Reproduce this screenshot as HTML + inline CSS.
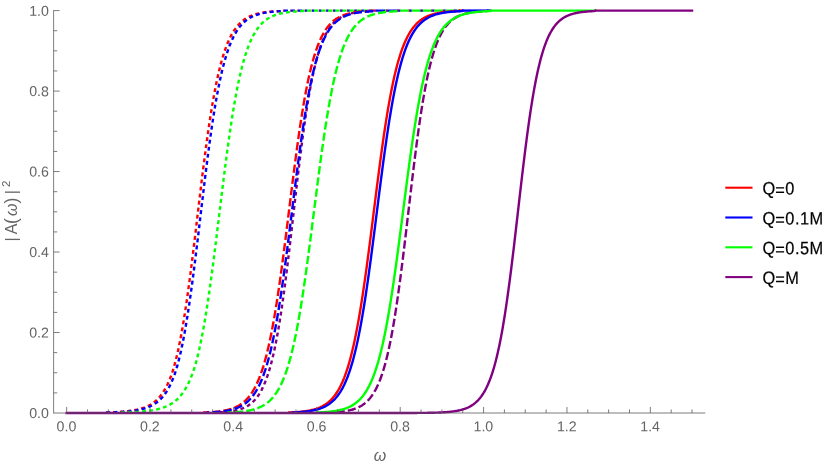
<!DOCTYPE html>
<html><head><meta charset="utf-8"><title>plot</title>
<style>
html,body{margin:0;padding:0;background:#fff;}
body{width:830px;height:468px;overflow:hidden;font-family:"Liberation Sans",sans-serif;}
svg{display:block;will-change:transform;}
.tk{font-family:"Liberation Sans",sans-serif;font-size:14.2px;letter-spacing:0px;fill:#646464;}
.lg{font-family:"Liberation Sans",sans-serif;font-size:18.0px;fill:#000000;stroke:#000;stroke-width:0.2px;}
.al{font-family:"Liberation Sans",sans-serif;font-size:16px;fill:#666666;}
</style></head><body>
<svg width="830" height="468" viewBox="0 0 830 468">
<rect width="830" height="468" fill="#ffffff"/>
<g>
<path d="M105.02 412.50 L105.86 412.47 L106.69 412.45 L107.53 412.42 L108.36 412.40 L109.19 412.37 L110.03 412.34 L110.86 412.31 L111.70 412.28 L112.53 412.24 L113.36 412.21 L114.20 412.17 L115.03 412.13 L115.86 412.09 L116.70 412.04 L117.53 411.99 L118.37 411.94 L119.20 411.89 L120.03 411.84 L120.87 411.78 L121.70 411.72 L122.53 411.65 L123.37 411.58 L124.20 411.51 L125.04 411.43 L125.87 411.35 L126.70 411.26 L127.54 411.17 L128.37 411.07 L129.20 410.97 L130.04 410.86 L130.87 410.75 L131.71 410.62 L132.54 410.49 L133.37 410.36 L134.21 410.21 L135.04 410.06 L135.88 409.89 L136.71 409.72 L137.54 409.53 L138.38 409.34 L139.21 409.13 L140.04 408.91 L140.88 408.68 L141.71 408.43 L142.55 408.16 L143.38 407.88 L144.21 407.58 L145.05 407.26 L145.88 406.93 L146.71 406.57 L147.55 406.19 L148.38 405.78 L149.22 405.35 L150.05 404.89 L150.88 404.40 L151.72 403.88 L152.55 403.32 L153.39 402.73 L154.22 402.10 L155.05 401.43 L155.89 400.72 L156.72 399.96 L157.55 399.15 L158.39 398.29 L159.22 397.38 L160.06 396.40 L160.89 395.36 L161.72 394.26 L162.56 393.08 L163.39 391.83 L164.22 390.50 L165.06 389.08 L165.89 387.57 L166.73 385.97 L167.56 384.27 L168.39 382.46 L169.23 380.53 L170.06 378.49 L170.89 376.33 L171.73 374.03 L172.56 371.59 L173.40 368.93 L174.23 366.03 L175.06 362.96 L175.90 359.73 L176.73 356.32 L177.57 352.74 L178.40 348.97 L179.23 345.02 L180.07 340.88 L180.90 336.54 L181.73 332.01 L182.57 327.29 L183.40 322.37 L184.24 317.26 L185.07 311.97 L185.90 306.48 L186.74 300.82 L187.57 294.98 L188.40 288.97 L189.24 282.81 L190.07 276.49 L190.91 270.04 L191.74 263.47 L192.57 256.78 L193.41 250.00 L194.24 243.14 L195.08 236.21 L195.91 229.23 L196.74 222.22 L197.58 215.20 L198.41 208.18 L199.24 201.18 L200.08 194.21 L200.91 187.30 L201.75 180.46 L202.58 173.70 L203.41 167.03 L204.25 160.48 L205.08 154.06 L205.91 147.76 L206.75 141.61 L207.58 135.62 L208.42 129.78 L209.25 124.12 L210.08 118.62 L210.92 113.31 L211.75 108.17 L212.58 103.22 L213.42 98.44 L214.25 93.86 L215.09 89.45 L215.92 85.23 L216.75 81.18 L217.59 77.32 L218.42 73.62 L219.26 70.10 L220.09 66.74 L220.92 63.55 L221.76 60.51 L222.59 57.62 L223.42 54.88 L224.26 52.28 L225.09 49.82 L225.93 47.49 L226.76 45.28 L227.59 43.20 L228.43 41.23 L229.26 39.37 L230.09 37.61 L230.93 35.96 L231.76 34.40 L232.60 32.93 L233.43 31.54 L234.26 30.24 L235.10 29.01 L235.93 27.86 L236.77 26.78 L237.60 25.76 L238.43 24.80 L239.27 23.90 L240.10 23.06 L240.93 22.27 L241.77 21.53 L242.60 20.83 L243.44 20.17 L244.27 19.56 L245.10 18.99 L245.94 18.45 L246.77 17.94 L247.60 17.47 L248.44 17.03 L249.27 16.61 L250.11 16.22 L250.94 15.86 L251.77 15.52 L252.61 15.20 L253.44 14.90 L254.27 14.62 L255.11 14.36 L255.94 14.12 L256.78 13.89 L257.61 13.67 L258.44 13.47 L259.28 13.29 L260.11 13.11 L260.95 12.95 L261.78 12.79 L262.61 12.65 L263.45 12.52 L264.28 12.39 L265.11 12.28 L265.95 12.17 L266.78 12.06 L267.62 11.97 L268.45 11.88 L269.28 11.79 L270.12 11.72 L270.95 11.64 L271.78 11.57 L272.62 11.51 L273.45 11.45 L274.29 11.40 L275.12 11.34 L275.95 11.29 L276.79 11.25 L277.62 11.21 L278.46 11.17 L279.29 11.13 L280.12 11.09 L280.96 10.60" fill="none" stroke="#ff0000" stroke-width="2.40" stroke-linejoin="round" stroke-linecap="square" stroke-dasharray="1.50 5.60" stroke-dashoffset="4.98"/>
<path d="M283.16 10.60 H284.06 M290.26 10.60 H291.16 M297.36 10.60 H298.26 M304.46 10.60 H305.36 M311.56 10.60 H312.46 M318.66 10.60 H319.56 M325.76 10.60 H326.66 M332.86 10.60 H333.76 M339.96 10.60 H340.86 M347.06 10.60 H347.96 M354.16 10.60 H355.06 M361.26 10.60 H362.16 M368.36 10.60 H369.26 M397.01 10.60 H397.66 M453.81 10.60 H454.46" fill="none" stroke="#ff0000" stroke-width="2.40"/>
<path d="M107.53 412.51 L108.36 412.49 L109.19 412.46 L110.03 412.44 L110.86 412.41 L111.70 412.39 L112.53 412.36 L113.36 412.33 L114.20 412.30 L115.03 412.26 L115.86 412.23 L116.70 412.19 L117.53 412.15 L118.37 412.11 L119.20 412.07 L120.03 412.02 L120.87 411.97 L121.70 411.92 L122.53 411.87 L123.37 411.81 L124.20 411.75 L125.04 411.69 L125.87 411.62 L126.70 411.55 L127.54 411.48 L128.37 411.40 L129.20 411.31 L130.04 411.23 L130.87 411.13 L131.71 411.03 L132.54 410.93 L133.37 410.82 L134.21 410.70 L135.04 410.57 L135.88 410.44 L136.71 410.30 L137.54 410.15 L138.38 409.99 L139.21 409.83 L140.04 409.65 L140.88 409.46 L141.71 409.26 L142.55 409.05 L143.38 408.82 L144.21 408.58 L145.05 408.33 L145.88 408.05 L146.71 407.77 L147.55 407.46 L148.38 407.14 L149.22 406.79 L150.05 406.42 L150.88 406.03 L151.72 405.61 L152.55 405.17 L153.39 404.70 L154.22 404.20 L155.05 403.66 L155.89 403.10 L156.72 402.49 L157.55 401.85 L158.39 401.16 L159.22 400.43 L160.06 399.65 L160.89 398.83 L161.72 397.94 L162.56 397.01 L163.39 396.01 L164.22 394.94 L165.06 393.81 L165.89 392.60 L166.73 391.32 L167.56 389.96 L168.39 388.51 L169.23 386.96 L170.06 385.32 L170.89 383.57 L171.73 381.72 L172.56 379.75 L173.40 377.66 L174.23 375.45 L175.06 373.10 L175.90 370.60 L176.73 367.82 L177.57 364.85 L178.40 361.72 L179.23 358.43 L180.07 354.95 L180.90 351.30 L181.73 347.46 L182.57 343.43 L183.40 339.21 L184.24 334.80 L185.07 330.20 L185.90 325.40 L186.74 320.41 L187.57 315.22 L188.40 309.85 L189.24 304.30 L190.07 298.56 L190.91 292.66 L191.74 286.59 L192.57 280.36 L193.41 274.00 L194.24 267.50 L195.08 260.88 L195.91 254.15 L196.74 247.34 L197.58 240.45 L198.41 233.50 L199.24 226.50 L200.08 219.49 L200.91 212.46 L201.75 205.45 L202.58 198.46 L203.41 191.51 L204.25 184.63 L205.08 177.81 L205.91 171.09 L206.75 164.47 L207.58 157.96 L208.42 151.59 L209.25 145.35 L210.08 139.26 L210.92 133.33 L211.75 127.56 L212.58 121.96 L213.42 116.53 L214.25 111.28 L215.09 106.22 L215.92 101.34 L216.75 96.64 L217.59 92.12 L218.42 87.79 L219.26 83.63 L220.09 79.66 L220.92 75.86 L221.76 72.23 L222.59 68.77 L223.42 65.48 L224.26 62.35 L225.09 59.37 L225.93 56.54 L226.76 53.85 L227.59 51.31 L228.43 48.90 L229.26 46.62 L230.09 44.46 L230.93 42.42 L231.76 40.49 L232.60 38.67 L233.43 36.96 L234.26 35.34 L235.10 33.82 L235.93 32.38 L236.77 31.03 L237.60 29.75 L238.43 28.56 L239.27 27.43 L240.10 26.37 L240.93 25.38 L241.77 24.45 L242.60 23.57 L243.44 22.75 L244.27 21.97 L245.10 21.25 L245.94 20.57 L246.77 19.93 L247.60 19.33 L248.44 18.77 L249.27 18.25 L250.11 17.76 L250.94 17.29 L251.77 16.86 L252.61 16.46 L253.44 16.08 L254.27 15.73 L255.11 15.39 L255.94 15.08 L256.78 14.79 L257.61 14.52 L258.44 14.26 L259.28 14.03 L260.11 13.80 L260.95 13.60 L261.78 13.40 L262.61 13.22 L263.45 13.05 L264.28 12.89 L265.11 12.74 L265.95 12.60 L266.78 12.47 L267.62 12.35 L268.45 12.23 L269.28 12.12 L270.12 12.03 L270.95 11.93 L271.78 11.84 L272.62 11.76 L273.45 11.69 L274.29 11.62 L275.12 11.55 L275.95 11.49 L276.79 11.43 L277.62 11.37 L278.46 11.32 L279.29 11.28 L280.12 11.23 L280.96 11.19 L281.79 11.15 L282.62 11.12 L283.46 10.60" fill="none" stroke="#0000ff" stroke-width="2.40" stroke-linejoin="round" stroke-linecap="square" stroke-dasharray="1.50 5.60" stroke-dashoffset="7.00"/>
<path d="M283.66 10.60 H287.96 M290.76 10.60 H295.06 M297.86 10.60 H302.16 M304.96 10.60 H307.26 M312.06 10.60 H314.36 M319.16 10.60 H321.46 M326.26 10.60 H328.56 M333.36 10.60 H335.66 M340.46 10.60 H342.76 M347.56 10.60 H349.86 M354.66 10.60 H356.96 M361.76 10.60 H364.06 M368.86 10.60 H371.16 M384.11 10.60 H385.36 M397.26 10.60 H398.41 M419.66 10.60 H420.86 M454.06 10.60 H454.91" fill="none" stroke="#0000ff" stroke-width="2.40"/>
<path d="M120.87 412.51 L121.70 412.49 L122.53 412.47 L123.37 412.44 L124.20 412.42 L125.04 412.40 L125.87 412.37 L126.70 412.34 L127.54 412.31 L128.37 412.29 L129.20 412.25 L130.04 412.22 L130.87 412.19 L131.71 412.15 L132.54 412.11 L133.37 412.07 L134.21 412.03 L135.04 411.98 L135.88 411.94 L136.71 411.89 L137.54 411.84 L138.38 411.78 L139.21 411.72 L140.04 411.66 L140.88 411.60 L141.71 411.53 L142.55 411.46 L143.38 411.39 L144.21 411.31 L145.05 411.23 L145.88 411.14 L146.71 411.04 L147.55 410.95 L148.38 410.84 L149.22 410.73 L150.05 410.62 L150.88 410.50 L151.72 410.37 L152.55 410.23 L153.39 410.09 L154.22 409.94 L155.05 409.78 L155.89 409.61 L156.72 409.43 L157.55 409.24 L158.39 409.04 L159.22 408.82 L160.06 408.60 L160.89 408.36 L161.72 408.10 L162.56 407.84 L163.39 407.55 L164.22 407.25 L165.06 406.93 L165.89 406.59 L166.73 406.23 L167.56 405.85 L168.39 405.45 L169.23 405.02 L170.06 404.57 L170.89 404.08 L171.73 403.57 L172.56 403.03 L173.40 402.45 L174.23 401.84 L175.06 401.19 L175.90 400.50 L176.73 399.77 L177.57 398.99 L178.40 398.17 L179.23 397.29 L180.07 396.36 L180.90 395.38 L181.73 394.33 L182.57 393.22 L183.40 392.04 L184.24 390.79 L185.07 389.46 L185.90 388.05 L186.74 386.56 L187.57 384.97 L188.40 383.29 L189.24 381.51 L190.07 379.63 L190.91 377.64 L191.74 375.52 L192.57 373.29 L193.41 370.93 L194.24 368.43 L195.08 365.70 L195.91 362.74 L196.74 359.63 L197.58 356.36 L198.41 352.93 L199.24 349.32 L200.08 345.55 L200.91 341.59 L201.75 337.46 L202.58 333.15 L203.41 328.66 L204.25 323.98 L205.08 319.13 L205.91 314.09 L206.75 308.88 L207.58 303.50 L208.42 297.95 L209.25 292.23 L210.08 286.36 L210.92 280.34 L211.75 274.19 L212.58 267.90 L213.42 261.50 L214.25 255.00 L215.09 248.40 L215.92 241.72 L216.75 234.98 L217.59 228.19 L218.42 221.37 L219.26 214.54 L220.09 207.70 L220.92 200.87 L221.76 194.08 L222.59 187.33 L223.42 180.63 L224.26 174.02 L225.09 167.49 L225.93 161.06 L226.76 154.75 L227.59 148.56 L228.43 142.50 L229.26 136.59 L230.09 130.82 L230.93 125.22 L231.76 119.77 L232.60 114.50 L233.43 109.39 L234.26 104.46 L235.10 99.71 L235.93 95.13 L236.77 90.73 L237.60 86.50 L238.43 82.45 L239.27 78.57 L240.10 74.86 L240.93 71.32 L241.77 67.94 L242.60 64.72 L243.44 61.65 L244.27 58.74 L245.10 55.97 L245.94 53.34 L246.77 50.84 L247.60 48.48 L248.44 46.24 L249.27 44.12 L250.11 42.12 L250.94 40.22 L251.77 38.43 L252.61 36.75 L253.44 35.16 L254.27 33.65 L255.11 32.24 L255.94 30.91 L256.78 29.65 L257.61 28.47 L258.44 27.36 L259.28 26.32 L260.11 25.33 L260.95 24.41 L261.78 23.54 L262.61 22.73 L263.45 21.97 L264.28 21.25 L265.11 20.57 L265.95 19.94 L266.78 19.35 L267.62 18.79 L268.45 18.27 L269.28 17.78 L270.12 17.32 L270.95 16.90 L271.78 16.49 L272.62 16.12 L273.45 15.76 L274.29 15.43 L275.12 15.12 L275.95 14.83 L276.79 14.56 L277.62 14.30 L278.46 14.07 L279.29 13.84 L280.12 13.63 L280.96 13.44 L281.79 13.25 L282.62 13.08 L283.46 12.92 L284.29 12.77 L285.13 12.63 L285.96 12.50 L286.79 12.38 L287.63 12.26 L288.46 12.16 L289.29 12.06 L290.13 11.96 L290.96 11.87 L291.80 11.79 L292.63 11.71 L293.46 11.64 L294.30 11.57 L295.13 11.51 L295.97 11.45 L296.80 11.40 L297.63 11.34 L298.47 11.30 L299.30 11.25 L300.13 11.21 L300.97 11.17 L301.80 11.13 L302.64 11.10 L303.47 10.60" fill="none" stroke="#00ff00" stroke-width="2.40" stroke-linejoin="round" stroke-linecap="square" stroke-dasharray="1.50 5.60" stroke-dashoffset="5.98"/>
<path d="M303.26 10.60 H304.06 M306.86 10.60 H311.16 M313.96 10.60 H318.26 M321.06 10.60 H325.36 M328.16 10.60 H332.46 M335.26 10.60 H339.56 M342.36 10.60 H346.66 M349.46 10.60 H353.76 M356.56 10.60 H360.86 M363.66 10.60 H367.96 M370.76 10.60 H372.06 M384.96 10.60 H386.41 M420.46 10.60 H421.01 M442.26 10.60 H443.21" fill="none" stroke="#00ff00" stroke-width="2.40"/>
<path d="M216.75 412.51 L217.59 412.48 L218.42 412.44 L219.26 412.40 L220.09 412.35 L220.92 412.30 L221.76 412.25 L222.59 412.19 L223.42 412.13 L224.26 412.07 L225.09 411.99 L225.93 411.92 L226.76 411.84 L227.59 411.75 L228.43 411.66 L229.26 411.55 L230.09 411.45 L230.93 411.33 L231.76 411.20 L232.60 411.07 L233.43 410.92 L234.26 410.77 L235.10 410.60 L235.93 410.42 L236.77 410.23 L237.60 410.02 L238.43 409.79 L239.27 409.55 L240.10 409.30 L240.93 409.02 L241.77 408.72 L242.60 408.40 L243.44 408.06 L244.27 407.69 L245.10 407.29 L245.94 406.87 L246.77 406.41 L247.60 405.92 L248.44 405.40 L249.27 404.84 L250.11 404.23 L250.94 403.58 L251.77 402.89 L252.61 402.15 L253.44 401.35 L254.27 400.50 L255.11 399.58 L255.94 398.61 L256.78 397.56 L257.61 396.44 L258.44 395.24 L259.28 393.96 L260.11 392.60 L260.95 391.14 L261.78 389.58 L262.61 387.92 L263.45 386.15 L264.28 384.27 L265.11 382.26 L265.95 380.13 L266.78 377.86 L267.62 375.45 L268.45 372.90 L269.28 370.19 L270.12 367.32 L270.95 364.29 L271.78 361.08 L272.62 357.70 L273.45 354.13 L274.29 350.38 L275.12 346.43 L275.95 342.29 L276.79 337.94 L277.62 333.40 L278.46 328.65 L279.29 323.69 L280.12 318.54 L280.96 313.18 L281.79 307.62 L282.62 301.87 L283.46 295.93 L284.29 289.81 L285.13 283.51 L285.96 277.05 L286.79 270.44 L287.63 263.69 L288.46 256.82 L289.29 249.83 L290.13 242.75 L290.96 235.60 L291.80 228.38 L292.63 221.12 L293.46 213.85 L294.30 206.56 L295.13 199.30 L295.97 192.07 L296.80 184.89 L297.63 177.79 L298.47 170.77 L299.30 163.86 L300.13 157.06 L300.97 150.40 L301.80 143.89 L302.64 137.54 L303.47 131.36 L304.30 125.35 L305.14 119.53 L305.97 113.89 L306.80 108.46 L307.64 103.22 L308.47 98.18 L309.31 93.35 L310.14 88.71 L310.97 84.28 L311.81 80.04 L312.64 76.00 L313.47 72.16 L314.31 68.50 L315.14 65.02 L315.98 61.72 L316.81 58.60 L317.64 55.64 L318.48 52.84 L319.31 50.20 L320.15 47.70 L320.98 45.35 L321.81 43.13 L322.65 41.04 L323.48 39.08 L324.31 37.24 L325.15 35.50 L325.98 33.87 L326.82 32.35 L327.65 30.91 L328.48 29.57 L329.32 28.31 L330.15 27.13 L330.98 26.03 L331.82 25.00 L332.65 24.03 L333.49 23.13 L334.32 22.28 L335.15 21.50 L335.99 20.76 L336.82 20.07 L337.66 19.43 L338.49 18.83 L339.32 18.27 L340.16 17.74 L340.99 17.26 L341.82 16.80 L342.66 16.38 L343.49 15.98 L344.33 15.61 L345.16 15.27 L345.99 14.95 L346.83 14.65 L347.66 14.37 L348.49 14.11 L349.33 13.87 L350.16 13.64 L351.00 13.43 L351.83 13.24 L352.66 13.06 L353.50 12.89 L354.33 12.73 L355.16 12.58 L356.00 12.44 L356.83 12.32 L357.67 12.20 L358.50 12.09 L359.33 11.98 L360.17 11.89 L361.00 11.80 L361.84 11.72 L362.67 11.64 L363.50 11.57 L364.34 11.50 L365.17 11.44 L366.00 11.38 L366.84 11.33 L367.67 11.28 L368.51 11.23 L369.34 11.19 L370.17 11.14 L371.01 11.11 L371.84 10.60" fill="none" stroke="#800080" stroke-width="2.40" stroke-linejoin="round" stroke-linecap="square" stroke-dasharray="1.50 5.60" stroke-dashoffset="3.18"/>
<path d="M372.31 10.60 H375.81 M386.01 10.60 H387.11 M395.41 10.60 H397.41 M408.36 10.60 H409.71 M430.96 10.60 H432.31 M442.81 10.60 H443.61 M453.56 10.60 H454.21" fill="none" stroke="#800080" stroke-width="2.40"/>
<path d="M204.25 412.51 L205.08 412.47 L205.91 412.44 L206.75 412.40 L207.58 412.36 L208.42 412.31 L209.25 412.27 L210.08 412.22 L210.92 412.16 L211.75 412.11 L212.58 412.04 L213.42 411.98 L214.25 411.91 L215.09 411.84 L215.92 411.76 L216.75 411.67 L217.59 411.58 L218.42 411.49 L219.26 411.38 L220.09 411.27 L220.92 411.16 L221.76 411.03 L222.59 410.90 L223.42 410.75 L224.26 410.60 L225.09 410.44 L225.93 410.27 L226.76 410.08 L227.59 409.88 L228.43 409.67 L229.26 409.45 L230.09 409.21 L230.93 408.95 L231.76 408.68 L232.60 408.39 L233.43 408.08 L234.26 407.75 L235.10 407.40 L235.93 407.02 L236.77 406.62 L237.60 406.19 L238.43 405.74 L239.27 405.25 L240.10 404.74 L240.93 404.19 L241.77 403.60 L242.60 402.98 L243.44 402.31 L244.27 401.61 L245.10 400.86 L245.94 400.06 L246.77 399.21 L247.60 398.30 L248.44 397.34 L249.27 396.32 L250.11 395.23 L250.94 394.08 L251.77 392.86 L252.61 391.56 L253.44 390.19 L254.27 388.73 L255.11 387.19 L255.94 385.55 L256.78 383.82 L257.61 381.99 L258.44 380.05 L259.28 378.00 L260.11 375.84 L260.95 373.56 L261.78 371.16 L262.61 368.63 L263.45 365.96 L264.28 363.15 L265.11 360.21 L265.95 357.11 L266.78 353.86 L267.62 350.46 L268.45 346.90 L269.28 343.18 L270.12 339.29 L270.95 335.23 L271.78 331.01 L272.62 326.61 L273.45 322.04 L274.29 317.31 L275.12 312.40 L275.95 307.33 L276.79 302.09 L277.62 296.68 L278.46 291.13 L279.29 285.42 L280.12 279.56 L280.96 273.58 L281.79 267.46 L282.62 261.22 L283.46 254.88 L284.29 248.44 L285.13 241.91 L285.96 235.31 L286.79 228.66 L287.63 221.96 L288.46 215.24 L289.29 208.50 L290.13 201.76 L290.96 195.04 L291.80 188.35 L292.63 181.70 L293.46 175.12 L294.30 168.61 L295.13 162.19 L295.97 155.87 L296.80 149.67 L297.63 143.58 L298.47 137.63 L299.30 131.83 L300.13 126.17 L300.97 120.67 L301.80 115.33 L302.64 110.17 L303.47 105.17 L304.30 100.34 L305.14 95.70 L305.97 91.23 L306.80 86.93 L307.64 82.81 L308.47 78.87 L309.31 75.10 L310.14 71.49 L310.97 68.06 L311.81 64.78 L312.64 61.67 L313.47 58.71 L314.31 55.89 L315.14 53.22 L315.98 50.70 L316.81 48.30 L317.64 46.03 L318.48 43.89 L319.31 41.87 L320.15 39.96 L320.98 38.15 L321.81 36.45 L322.65 34.85 L323.48 33.34 L324.31 31.92 L325.15 30.59 L325.98 29.33 L326.82 28.15 L327.65 27.04 L328.48 26.00 L329.32 25.02 L330.15 24.10 L330.98 23.24 L331.82 22.43 L332.65 21.67 L333.49 20.96 L334.32 20.30 L335.15 19.67 L335.99 19.09 L336.82 18.54 L337.66 18.03 L338.49 17.54 L339.32 17.09 L340.16 16.67 L340.99 16.28 L341.82 15.91 L342.66 15.56 L343.49 15.24 L344.33 14.94 L345.16 14.66 L345.99 14.39 L346.83 14.14 L347.66 13.91 L348.49 13.70 L349.33 13.49 L350.16 13.31 L351.00 13.13 L351.83 12.96 L352.66 12.81 L353.50 12.66 L354.33 12.53 L355.16 12.40 L356.00 12.28 L356.83 12.17 L357.67 12.07 L358.50 11.97 L359.33 11.88 L360.17 11.80 L361.00 11.72 L361.84 11.65 L362.67 11.58 L363.50 11.51 L364.34 11.45 L365.17 11.40 L366.00 11.35 L366.84 11.30 L367.67 11.25 L368.51 11.21 L369.34 11.17 L370.17 11.13 L371.01 11.10 L371.84 10.60" fill="none" stroke="#ff0000" stroke-width="2.40" stroke-linejoin="round" stroke-linecap="square" stroke-dasharray="5.80 5.50" stroke-dashoffset="2.21"/>
<path d="M371.66 10.60 H372.71 M375.41 10.60 H376.31 M386.71 10.60 H387.61 M398.01 10.60 H398.91 M409.31 10.60 H410.21 M420.61 10.60 H421.51 M431.91 10.60 H432.81 M443.21 10.60 H444.11 M454.51 10.60 H455.41" fill="none" stroke="#ff0000" stroke-width="2.40"/>
<path d="M207.58 412.51 L208.42 412.48 L209.25 412.44 L210.08 412.41 L210.92 412.36 L211.75 412.32 L212.58 412.27 L213.42 412.22 L214.25 412.17 L215.09 412.11 L215.92 412.05 L216.75 411.99 L217.59 411.92 L218.42 411.85 L219.26 411.77 L220.09 411.68 L220.92 411.59 L221.76 411.50 L222.59 411.39 L223.42 411.28 L224.26 411.17 L225.09 411.04 L225.93 410.91 L226.76 410.77 L227.59 410.61 L228.43 410.45 L229.26 410.28 L230.09 410.09 L230.93 409.89 L231.76 409.68 L232.60 409.45 L233.43 409.21 L234.26 408.96 L235.10 408.68 L235.93 408.39 L236.77 408.08 L237.60 407.74 L238.43 407.39 L239.27 407.01 L240.10 406.60 L240.93 406.17 L241.77 405.71 L242.60 405.22 L243.44 404.70 L244.27 404.14 L245.10 403.55 L245.94 402.92 L246.77 402.24 L247.60 401.53 L248.44 400.76 L249.27 399.95 L250.11 399.09 L250.94 398.17 L251.77 397.19 L252.61 396.15 L253.44 395.05 L254.27 393.87 L255.11 392.63 L255.94 391.31 L256.78 389.90 L257.61 388.42 L258.44 386.84 L259.28 385.17 L260.11 383.40 L260.95 381.53 L261.78 379.55 L262.61 377.46 L263.45 375.25 L264.28 372.92 L265.11 370.46 L265.95 367.87 L266.78 365.14 L267.62 362.27 L268.45 359.26 L269.28 356.09 L270.12 352.77 L270.95 349.29 L271.78 345.65 L272.62 341.84 L273.45 337.87 L274.29 333.73 L275.12 329.42 L275.95 324.93 L276.79 320.28 L277.62 315.45 L278.46 310.46 L279.29 305.30 L280.12 299.98 L280.96 294.50 L281.79 288.86 L282.62 283.08 L283.46 277.16 L284.29 271.11 L285.13 264.94 L285.96 258.66 L286.79 252.28 L287.63 245.81 L288.46 239.26 L289.29 232.66 L290.13 226.00 L290.96 219.31 L291.80 212.61 L292.63 205.90 L293.46 199.20 L294.30 192.53 L295.13 185.90 L295.97 179.32 L296.80 172.82 L297.63 166.39 L298.47 160.06 L299.30 153.84 L300.13 147.73 L300.97 141.75 L301.80 135.91 L302.64 130.21 L303.47 124.66 L304.30 119.27 L305.14 114.04 L305.97 108.98 L306.80 104.09 L307.64 99.37 L308.47 94.82 L309.31 90.45 L310.14 86.25 L310.97 82.22 L311.81 78.36 L312.64 74.66 L313.47 71.13 L314.31 67.77 L315.14 64.56 L315.98 61.50 L316.81 58.59 L317.64 55.83 L318.48 53.21 L319.31 50.72 L320.15 48.36 L320.98 46.13 L321.81 44.02 L322.65 42.02 L323.48 40.13 L324.31 38.35 L325.15 36.66 L325.98 35.08 L326.82 33.58 L327.65 32.17 L328.48 30.84 L329.32 29.59 L330.15 28.41 L330.98 27.31 L331.82 26.26 L332.65 25.29 L333.49 24.37 L334.32 23.50 L335.15 22.69 L335.99 21.93 L336.82 21.21 L337.66 20.54 L338.49 19.91 L339.32 19.32 L340.16 18.77 L340.99 18.25 L341.82 17.76 L342.66 17.30 L343.49 16.88 L344.33 16.47 L345.16 16.10 L345.99 15.75 L346.83 15.42 L347.66 15.11 L348.49 14.82 L349.33 14.55 L350.16 14.29 L351.00 14.06 L351.83 13.83 L352.66 13.63 L353.50 13.43 L354.33 13.25 L355.16 13.08 L356.00 12.92 L356.83 12.77 L357.67 12.63 L358.50 12.50 L359.33 12.38 L360.17 12.26 L361.00 12.15 L361.84 12.05 L362.67 11.96 L363.50 11.87 L364.34 11.79 L365.17 11.71 L366.00 11.64 L366.84 11.57 L367.67 11.51 L368.51 11.45 L369.34 11.40 L370.17 11.35 L371.01 11.30 L371.84 11.25 L372.67 11.21 L373.51 11.17 L374.34 11.13 L375.18 11.10 L376.01 10.60" fill="none" stroke="#0000ff" stroke-width="2.40" stroke-linejoin="round" stroke-linecap="square" stroke-dasharray="5.80 5.50" stroke-dashoffset="5.30"/>
<path d="M375.91 10.60 H384.51 M387.21 10.60 H395.81 M398.51 10.60 H400.56 M409.81 10.60 H411.86 M421.11 10.60 H423.16 M432.41 10.60 H434.46 M443.71 10.60 H445.76 M455.01 10.60 H457.06" fill="none" stroke="#0000ff" stroke-width="2.40"/>
<path d="M228.43 412.50 L229.26 412.47 L230.09 412.43 L230.93 412.39 L231.76 412.35 L232.60 412.31 L233.43 412.26 L234.26 412.21 L235.10 412.16 L235.93 412.10 L236.77 412.04 L237.60 411.97 L238.43 411.91 L239.27 411.83 L240.10 411.75 L240.93 411.67 L241.77 411.58 L242.60 411.49 L243.44 411.38 L244.27 411.28 L245.10 411.16 L245.94 411.04 L246.77 410.91 L247.60 410.77 L248.44 410.62 L249.27 410.46 L250.11 410.29 L250.94 410.10 L251.77 409.91 L252.61 409.70 L253.44 409.48 L254.27 409.25 L255.11 409.00 L255.94 408.73 L256.78 408.45 L257.61 408.15 L258.44 407.82 L259.28 407.48 L260.11 407.11 L260.95 406.72 L261.78 406.31 L262.61 405.86 L263.45 405.39 L264.28 404.89 L265.11 404.35 L265.95 403.78 L266.78 403.18 L267.62 402.53 L268.45 401.85 L269.28 401.12 L270.12 400.34 L270.95 399.52 L271.78 398.64 L272.62 397.71 L273.45 396.73 L274.29 395.68 L275.12 394.56 L275.95 393.38 L276.79 392.13 L277.62 390.80 L278.46 389.39 L279.29 387.90 L280.12 386.32 L280.96 384.65 L281.79 382.88 L282.62 381.02 L283.46 379.04 L284.29 376.96 L285.13 374.76 L285.96 372.45 L286.79 370.01 L287.63 367.44 L288.46 364.74 L289.29 361.90 L290.13 358.92 L290.96 355.79 L291.80 352.52 L292.63 349.09 L293.46 345.50 L294.30 341.76 L295.13 337.86 L295.97 333.79 L296.80 329.56 L297.63 325.17 L298.47 320.61 L299.30 315.89 L300.13 311.00 L300.97 305.96 L301.80 300.76 L302.64 295.41 L303.47 289.91 L304.30 284.27 L305.14 278.49 L305.97 272.59 L306.80 266.58 L307.64 260.45 L308.47 254.23 L309.31 247.92 L310.14 241.54 L310.97 235.09 L311.81 228.60 L312.64 222.07 L313.47 215.52 L314.31 208.96 L315.14 202.41 L315.98 195.88 L316.81 189.38 L317.64 182.93 L318.48 176.53 L319.31 170.21 L320.15 163.98 L320.98 157.84 L321.81 151.81 L322.65 145.89 L323.48 140.10 L324.31 134.44 L325.15 128.92 L325.98 123.55 L326.82 118.33 L327.65 113.27 L328.48 108.36 L329.32 103.62 L330.15 99.04 L330.98 94.62 L331.82 90.37 L332.65 86.28 L333.49 82.35 L334.32 78.59 L335.15 74.98 L335.99 71.54 L336.82 68.24 L337.66 65.10 L338.49 62.10 L339.32 59.24 L340.16 56.52 L340.99 53.93 L341.82 51.47 L342.66 49.14 L343.49 46.93 L344.33 44.83 L345.16 42.84 L345.99 40.96 L346.83 39.18 L347.66 37.50 L348.49 35.91 L349.33 34.40 L350.16 32.99 L351.00 31.65 L351.83 30.38 L352.66 29.19 L353.50 28.07 L354.33 27.01 L355.16 26.02 L356.00 25.08 L356.83 24.19 L357.67 23.36 L358.50 22.58 L359.33 21.85 L360.17 21.16 L361.00 20.51 L361.84 19.89 L362.67 19.32 L363.50 18.78 L364.34 18.28 L365.17 17.80 L366.00 17.35 L366.84 16.93 L367.67 16.54 L368.51 16.17 L369.34 15.82 L370.17 15.50 L371.01 15.19 L371.84 14.90 L372.67 14.64 L373.51 14.38 L374.34 14.15 L375.18 13.92 L376.01 13.72 L376.84 13.52 L377.68 13.34 L378.51 13.17 L379.34 13.01 L380.18 12.85 L381.01 12.71 L381.85 12.58 L382.68 12.46 L383.51 12.34 L384.35 12.23 L385.18 12.13 L386.02 12.03 L386.85 11.94 L387.68 11.86 L388.52 11.78 L389.35 11.70 L390.18 11.63 L391.02 11.57 L391.85 11.51 L392.69 11.45 L393.52 11.40 L394.35 11.35 L395.19 11.30 L396.02 11.26 L396.85 11.21 L397.69 11.18 L398.52 11.14 L399.36 11.11 L400.19 10.60" fill="none" stroke="#00ff00" stroke-width="2.40" stroke-linejoin="round" stroke-linecap="square" stroke-dasharray="5.80 5.50" stroke-dashoffset="3.40"/>
<path d="M400.16 10.60 H408.76 M411.46 10.60 H420.06 M422.76 10.60 H431.36 M434.06 10.60 H442.66 M445.36 10.60 H453.96 M456.66 10.60 H459.61" fill="none" stroke="#00ff00" stroke-width="2.40"/>
<path d="M329.32 412.51 L330.15 412.48 L330.98 412.44 L331.82 412.40 L332.65 412.35 L333.49 412.31 L334.32 412.26 L335.15 412.20 L335.99 412.14 L336.82 412.08 L337.66 412.01 L338.49 411.94 L339.32 411.86 L340.16 411.78 L340.99 411.69 L341.82 411.59 L342.66 411.49 L343.49 411.38 L344.33 411.26 L345.16 411.14 L345.99 411.00 L346.83 410.85 L347.66 410.70 L348.49 410.53 L349.33 410.35 L350.16 410.16 L351.00 409.95 L351.83 409.73 L352.66 409.49 L353.50 409.23 L354.33 408.96 L355.16 408.67 L356.00 408.35 L356.83 408.02 L357.67 407.66 L358.50 407.27 L359.33 406.86 L360.17 406.41 L361.00 405.94 L361.84 405.43 L362.67 404.89 L363.50 404.31 L364.34 403.68 L365.17 403.02 L366.00 402.30 L366.84 401.54 L367.67 400.73 L368.51 399.86 L369.34 398.93 L370.17 397.93 L371.01 396.87 L371.84 395.74 L372.67 394.54 L373.51 393.25 L374.34 391.88 L375.18 390.41 L376.01 388.86 L376.84 387.20 L377.68 385.44 L378.51 383.56 L379.34 381.57 L380.18 379.46 L381.01 377.22 L381.85 374.85 L382.68 372.33 L383.51 369.67 L384.35 366.86 L385.18 363.89 L386.02 360.75 L386.85 357.45 L387.68 353.97 L388.52 350.32 L389.35 346.48 L390.18 342.45 L391.02 338.24 L391.85 333.83 L392.69 329.23 L393.52 324.44 L394.35 319.45 L395.19 314.27 L396.02 308.90 L396.85 303.34 L397.69 297.59 L398.52 291.67 L399.36 285.59 L400.19 279.34 L401.02 272.93 L401.86 266.39 L402.69 259.72 L403.53 252.94 L404.36 246.05 L405.19 239.08 L406.03 232.04 L406.86 224.95 L407.69 217.83 L408.53 210.69 L409.36 203.55 L410.20 196.43 L411.03 189.35 L411.86 182.32 L412.70 175.37 L413.53 168.50 L414.36 161.73 L415.20 155.09 L416.03 148.57 L416.87 142.20 L417.70 135.98 L418.53 129.92 L419.37 124.04 L420.20 118.33 L421.03 112.81 L421.87 107.48 L422.70 102.35 L423.54 97.40 L424.37 92.65 L425.20 88.10 L426.04 83.74 L426.87 79.58 L427.71 75.60 L428.54 71.81 L429.37 68.21 L430.21 64.78 L431.04 61.53 L431.87 58.44 L432.71 55.52 L433.54 52.76 L434.38 50.14 L435.21 47.68 L436.04 45.35 L436.88 43.15 L437.71 41.08 L438.54 39.13 L439.38 37.30 L440.21 35.58 L441.05 33.96 L441.88 32.44 L442.71 31.02 L443.55 29.68 L444.38 28.43 L445.22 27.25 L446.05 26.15 L446.88 25.12 L447.72 24.16 L448.55 23.25 L449.38 22.41 L450.22 21.62 L451.05 20.88 L451.89 20.19 L452.72 19.55 L453.55 18.94 L454.39 18.38 L455.22 17.86 L456.05 17.36 L456.89 16.91 L457.72 16.48 L458.56 16.08 L459.39 15.71 L460.22 15.36 L461.06 15.04 L461.89 14.74 L462.72 14.45 L463.56 14.19 L464.39 13.95 L465.23 13.72 L466.06 13.51 L466.89 13.31 L467.73 13.12 L468.56 12.95 L469.40 12.79 L470.23 12.64 L471.06 12.50 L471.90 12.37 L472.73 12.25 L473.56 12.14 L474.40 12.03 L475.23 11.93 L476.07 11.84 L476.90 11.76 L477.73 11.68 L478.57 11.60 L479.40 11.53 L480.23 11.47 L481.07 11.41 L481.90 11.36 L482.74 11.30 L483.57 11.26 L484.40 11.21 L485.24 11.17 L486.07 11.13 L486.91 11.09 L487.74 10.60" fill="none" stroke="#800080" stroke-width="2.40" stroke-linejoin="round" stroke-linecap="square" stroke-dasharray="5.80 5.50" stroke-dashoffset="2.85"/>
<path d="M289.29 412.50 L290.13 412.46 L290.96 412.43 L291.80 412.39 L292.63 412.35 L293.46 412.30 L294.30 412.26 L295.13 412.21 L295.97 412.15 L296.80 412.09 L297.63 412.03 L298.47 411.97 L299.30 411.90 L300.13 411.82 L300.97 411.74 L301.80 411.65 L302.64 411.56 L303.47 411.47 L304.30 411.36 L305.14 411.25 L305.97 411.13 L306.80 411.00 L307.64 410.87 L308.47 410.72 L309.31 410.57 L310.14 410.41 L310.97 410.23 L311.81 410.04 L312.64 409.84 L313.47 409.63 L314.31 409.40 L315.14 409.16 L315.98 408.90 L316.81 408.62 L317.64 408.32 L318.48 408.01 L319.31 407.67 L320.15 407.32 L320.98 406.93 L321.81 406.53 L322.65 406.09 L323.48 405.63 L324.31 405.14 L325.15 404.61 L325.98 404.05 L326.82 403.46 L327.65 402.82 L328.48 402.14 L329.32 401.43 L330.15 400.66 L330.98 399.85 L331.82 398.98 L332.65 398.06 L333.49 397.08 L334.32 396.04 L335.15 394.93 L335.99 393.76 L336.82 392.51 L337.66 391.19 L338.49 389.79 L339.32 388.30 L340.16 386.73 L340.99 385.06 L341.82 383.29 L342.66 381.43 L343.49 379.45 L344.33 377.37 L345.16 375.16 L345.99 372.84 L346.83 370.39 L347.66 367.81 L348.49 365.09 L349.33 362.24 L350.16 359.24 L351.00 356.09 L351.83 352.79 L352.66 349.33 L353.50 345.71 L354.33 341.93 L355.16 337.98 L356.00 333.87 L356.83 329.59 L357.67 325.14 L358.50 320.53 L359.33 315.74 L360.17 310.79 L361.00 305.68 L361.84 300.41 L362.67 294.98 L363.50 289.40 L364.34 283.68 L365.17 277.82 L366.00 271.83 L366.84 265.72 L367.67 259.51 L368.51 253.19 L369.34 246.79 L370.17 240.32 L371.01 233.79 L371.84 227.21 L372.67 220.59 L373.51 213.96 L374.34 207.32 L375.18 200.69 L376.01 194.08 L376.84 187.52 L377.68 181.00 L378.51 174.55 L379.34 168.18 L380.18 161.90 L381.01 155.72 L381.85 149.66 L382.68 143.71 L383.51 137.90 L384.35 132.23 L385.18 126.70 L386.02 121.33 L386.85 116.11 L387.68 111.05 L388.52 106.16 L389.35 101.43 L390.18 96.88 L391.02 92.49 L391.85 88.27 L392.69 84.21 L393.52 80.33 L394.35 76.60 L395.19 73.04 L396.02 69.64 L396.85 66.39 L397.69 63.30 L398.52 60.35 L399.36 57.54 L400.19 54.87 L401.02 52.34 L401.86 49.93 L402.69 47.65 L403.53 45.49 L404.36 43.44 L405.19 41.51 L406.03 39.68 L406.86 37.94 L407.69 36.31 L408.53 34.77 L409.36 33.31 L410.20 31.94 L411.03 30.64 L411.86 29.42 L412.70 28.27 L413.53 27.19 L414.36 26.17 L415.20 25.21 L416.03 24.31 L416.87 23.46 L417.70 22.67 L418.53 21.92 L419.37 21.21 L420.20 20.55 L421.03 19.93 L421.87 19.35 L422.70 18.80 L423.54 18.29 L424.37 17.81 L425.20 17.35 L426.04 16.93 L426.87 16.53 L427.71 16.16 L428.54 15.81 L429.37 15.48 L430.21 15.17 L431.04 14.88 L431.87 14.61 L432.71 14.36 L433.54 14.12 L434.38 13.90 L435.21 13.69 L436.04 13.49 L436.88 13.31 L437.71 13.14 L438.54 12.97 L439.38 12.82 L440.21 12.68 L441.05 12.55 L441.88 12.43 L442.71 12.31 L443.55 12.20 L444.38 12.10 L445.22 12.00 L446.05 11.91 L446.88 11.83 L447.72 11.75 L448.55 11.68 L449.38 11.61 L450.22 11.55 L451.05 11.49 L451.89 11.43 L452.72 11.38 L453.55 11.33 L454.39 11.28 L455.22 11.24 L456.05 11.20 L456.89 11.16 L457.72 11.12 L458.56 11.09 L459.39 10.60" fill="none" stroke="#ff0000" stroke-width="2.40" stroke-linejoin="round" stroke-linecap="square"/>
<path d="M459.21 10.60 H462.91" fill="none" stroke="#ff0000" stroke-width="2.40"/>
<path d="M292.63 412.49 L293.46 412.45 L294.30 412.42 L295.13 412.38 L295.97 412.34 L296.80 412.29 L297.63 412.24 L298.47 412.19 L299.30 412.14 L300.13 412.08 L300.97 412.01 L301.80 411.95 L302.64 411.87 L303.47 411.80 L304.30 411.72 L305.14 411.63 L305.97 411.54 L306.80 411.44 L307.64 411.33 L308.47 411.22 L309.31 411.10 L310.14 410.97 L310.97 410.83 L311.81 410.68 L312.64 410.52 L313.47 410.36 L314.31 410.18 L315.14 409.99 L315.98 409.78 L316.81 409.56 L317.64 409.33 L318.48 409.08 L319.31 408.82 L320.15 408.54 L320.98 408.24 L321.81 407.91 L322.65 407.57 L323.48 407.21 L324.31 406.82 L325.15 406.40 L325.98 405.96 L326.82 405.49 L327.65 404.98 L328.48 404.45 L329.32 403.88 L330.15 403.27 L330.98 402.62 L331.82 401.93 L332.65 401.20 L333.49 400.42 L334.32 399.59 L335.15 398.71 L335.99 397.77 L336.82 396.77 L337.66 395.71 L338.49 394.58 L339.32 393.39 L340.16 392.12 L340.99 390.77 L341.82 389.34 L342.66 387.83 L343.49 386.22 L344.33 384.52 L345.16 382.72 L345.99 380.82 L346.83 378.81 L347.66 376.69 L348.49 374.44 L349.33 372.08 L350.16 369.59 L351.00 366.96 L351.83 364.20 L352.66 361.30 L353.50 358.25 L354.33 355.05 L355.16 351.69 L356.00 348.18 L356.83 344.51 L357.67 340.68 L358.50 336.68 L359.33 332.51 L360.17 328.18 L361.00 323.68 L361.84 319.01 L362.67 314.17 L363.50 309.18 L364.34 304.01 L365.17 298.70 L366.00 293.23 L366.84 287.61 L367.67 281.85 L368.51 275.96 L369.34 269.95 L370.17 263.82 L371.01 257.59 L371.84 251.27 L372.67 244.87 L373.51 238.39 L374.34 231.87 L375.18 225.30 L376.01 218.71 L376.84 212.10 L377.68 205.49 L378.51 198.90 L379.34 192.34 L380.18 185.82 L381.01 179.36 L381.85 172.97 L382.68 166.66 L383.51 160.44 L384.35 154.33 L385.18 148.33 L386.02 142.46 L386.85 136.72 L387.68 131.12 L388.52 125.66 L389.35 120.36 L390.18 115.21 L391.02 110.23 L391.85 105.40 L392.69 100.74 L393.52 96.25 L394.35 91.92 L395.19 87.76 L396.02 83.77 L396.85 79.93 L397.69 76.26 L398.52 72.75 L399.36 69.39 L400.19 66.18 L401.02 63.13 L401.86 60.21 L402.69 57.44 L403.53 54.80 L404.36 52.30 L405.19 49.92 L406.03 47.66 L406.86 45.52 L407.69 43.49 L408.53 41.57 L409.36 39.75 L410.20 38.03 L411.03 36.41 L411.86 34.88 L412.70 33.43 L413.53 32.06 L414.36 30.77 L415.20 29.56 L416.03 28.41 L416.87 27.33 L417.70 26.31 L418.53 25.36 L419.37 24.45 L420.20 23.61 L421.03 22.81 L421.87 22.06 L422.70 21.35 L423.54 20.69 L424.37 20.07 L425.20 19.48 L426.04 18.93 L426.87 18.41 L427.71 17.93 L428.54 17.47 L429.37 17.04 L430.21 16.64 L431.04 16.27 L431.87 15.91 L432.71 15.58 L433.54 15.27 L434.38 14.98 L435.21 14.70 L436.04 14.45 L436.88 14.20 L437.71 13.98 L438.54 13.77 L439.38 13.57 L440.21 13.38 L441.05 13.21 L441.88 13.04 L442.71 12.89 L443.55 12.74 L444.38 12.61 L445.22 12.48 L446.05 12.36 L446.88 12.25 L447.72 12.15 L448.55 12.05 L449.38 11.96 L450.22 11.87 L451.05 11.79 L451.89 11.72 L452.72 11.65 L453.55 11.58 L454.39 11.52 L455.22 11.46 L456.05 11.41 L456.89 11.36 L457.72 11.31 L458.56 11.26 L459.39 11.22 L460.22 11.18 L461.06 11.15 L461.89 11.11 L462.72 10.60" fill="none" stroke="#0000ff" stroke-width="2.40" stroke-linejoin="round" stroke-linecap="square"/>
<path d="M462.51 10.60 H491.26" fill="none" stroke="#0000ff" stroke-width="2.40"/>
<path d="M316.81 412.51 L317.64 412.47 L318.48 412.44 L319.31 412.40 L320.15 412.36 L320.98 412.32 L321.81 412.27 L322.65 412.22 L323.48 412.17 L324.31 412.11 L325.15 412.05 L325.98 411.99 L326.82 411.92 L327.65 411.85 L328.48 411.78 L329.32 411.69 L330.15 411.61 L330.98 411.51 L331.82 411.42 L332.65 411.31 L333.49 411.20 L334.32 411.08 L335.15 410.95 L335.99 410.81 L336.82 410.67 L337.66 410.51 L338.49 410.35 L339.32 410.17 L340.16 409.98 L340.99 409.78 L341.82 409.57 L342.66 409.34 L343.49 409.10 L344.33 408.84 L345.16 408.56 L345.99 408.27 L346.83 407.95 L347.66 407.62 L348.49 407.27 L349.33 406.89 L350.16 406.49 L351.00 406.06 L351.83 405.60 L352.66 405.11 L353.50 404.60 L354.33 404.05 L355.16 403.46 L356.00 402.84 L356.83 402.17 L357.67 401.47 L358.50 400.72 L359.33 399.93 L360.17 399.08 L361.00 398.18 L361.84 397.23 L362.67 396.21 L363.50 395.14 L364.34 394.00 L365.17 392.79 L366.00 391.51 L366.84 390.15 L367.67 388.71 L368.51 387.19 L369.34 385.58 L370.17 383.87 L371.01 382.07 L371.84 380.17 L372.67 378.16 L373.51 376.04 L374.34 373.80 L375.18 371.45 L376.01 368.97 L376.84 366.36 L377.68 363.62 L378.51 360.74 L379.34 357.72 L380.18 354.55 L381.01 351.24 L381.85 347.77 L382.68 344.15 L383.51 340.37 L384.35 336.44 L385.18 332.34 L386.02 328.08 L386.85 323.66 L387.68 319.07 L388.52 314.33 L389.35 309.43 L390.18 304.37 L391.02 299.16 L391.85 293.80 L392.69 288.30 L393.52 282.67 L394.35 276.90 L395.19 271.02 L396.02 265.03 L396.85 258.93 L397.69 252.74 L398.52 246.47 L399.36 240.13 L400.19 233.74 L401.02 227.30 L401.86 220.83 L402.69 214.35 L403.53 207.86 L404.36 201.38 L405.19 194.93 L406.03 188.51 L406.86 182.14 L407.69 175.84 L408.53 169.60 L409.36 163.46 L410.20 157.40 L411.03 151.46 L411.86 145.63 L412.70 139.92 L413.53 134.34 L414.36 128.90 L415.20 123.61 L416.03 118.46 L416.87 113.46 L417.70 108.62 L418.53 103.94 L419.37 99.41 L420.20 95.05 L421.03 90.84 L421.87 86.80 L422.70 82.91 L423.54 79.18 L424.37 75.61 L425.20 72.19 L426.04 68.91 L426.87 65.79 L427.71 62.80 L428.54 59.96 L429.37 57.25 L430.21 54.67 L431.04 52.21 L431.87 49.88 L432.71 47.66 L433.54 45.56 L434.38 43.57 L435.21 41.68 L436.04 39.89 L436.88 38.19 L437.71 36.59 L438.54 35.07 L439.38 33.64 L440.21 32.28 L441.05 31.00 L441.88 29.80 L442.71 28.66 L443.55 27.58 L444.38 26.57 L445.22 25.62 L446.05 24.71 L446.88 23.87 L447.72 23.07 L448.55 22.32 L449.38 21.61 L450.22 20.94 L451.05 20.31 L451.89 19.72 L452.72 19.17 L453.55 18.65 L454.39 18.16 L455.22 17.70 L456.05 17.26 L456.89 16.85 L457.72 16.47 L458.56 16.11 L459.39 15.77 L460.22 15.46 L461.06 15.16 L461.89 14.88 L462.72 14.61 L463.56 14.37 L464.39 14.13 L465.23 13.92 L466.06 13.71 L466.89 13.52 L467.73 13.34 L468.56 13.17 L469.40 13.01 L470.23 12.86 L471.06 12.72 L471.90 12.59 L472.73 12.47 L473.56 12.35 L474.40 12.24 L475.23 12.14 L476.07 12.05 L476.90 11.96 L477.73 11.87 L478.57 11.79 L479.40 11.72 L480.23 11.65 L481.07 11.59 L481.90 11.52 L482.74 11.47 L483.57 11.41 L484.40 11.36 L485.24 11.32 L486.07 11.27 L486.91 11.23 L487.74 11.19 L488.57 11.15 L489.41 11.12 L490.24 11.09 L491.07 10.60" fill="none" stroke="#00ff00" stroke-width="2.40" stroke-linejoin="round" stroke-linecap="square"/>
<path d="M490.86 10.60 H595.51" fill="none" stroke="#00ff00" stroke-width="2.40"/>
<path d="M66.67 413.00 L67.50 413.00 L68.34 413.00 L69.17 413.00 L70.01 413.00 L70.84 413.00 L71.67 413.00 L72.51 413.00 L73.34 413.00 L74.17 413.00 L75.01 413.00 L75.84 413.00 L76.68 413.00 L77.51 413.00 L78.34 413.00 L79.18 413.00 L80.01 413.00 L80.84 413.00 L81.68 413.00 L82.51 413.00 L83.35 413.00 L84.18 413.00 L85.01 413.00 L85.85 413.00 L86.68 413.00 L87.52 413.00 L88.35 413.00 L89.18 413.00 L90.02 413.00 L90.85 413.00 L91.68 413.00 L92.52 413.00 L93.35 413.00 L94.19 413.00 L95.02 413.00 L95.85 413.00 L96.69 413.00 L97.52 413.00 L98.35 413.00 L99.19 413.00 L100.02 413.00 L100.86 413.00 L101.69 413.00 L102.52 413.00 L103.36 413.00 L104.19 413.00 L105.02 413.00 L105.86 413.00 L106.69 413.00 L107.53 413.00 L108.36 413.00 L109.19 413.00 L110.03 413.00 L110.86 413.00 L111.70 413.00 L112.53 413.00 L113.36 413.00 L114.20 413.00 L115.03 413.00 L115.86 413.00 L116.70 413.00 L117.53 413.00 L118.37 413.00 L119.20 413.00 L120.03 413.00 L120.87 413.00 L121.70 413.00 L122.53 413.00 L123.37 413.00 L124.20 413.00 L125.04 413.00 L125.87 413.00 L126.70 413.00 L127.54 413.00 L128.37 413.00 L129.20 413.00 L130.04 413.00 L130.87 413.00 L131.71 413.00 L132.54 413.00 L133.37 413.00 L134.21 413.00 L135.04 413.00 L135.88 413.00 L136.71 413.00 L137.54 413.00 L138.38 413.00 L139.21 413.00 L140.04 413.00 L140.88 413.00 L141.71 413.00 L142.55 413.00 L143.38 413.00 L144.21 413.00 L145.05 413.00 L145.88 413.00 L146.71 413.00 L147.55 413.00 L148.38 413.00 L149.22 413.00 L150.05 413.00 L150.88 413.00 L151.72 413.00 L152.55 413.00 L153.39 413.00 L154.22 413.00 L155.05 413.00 L155.89 413.00 L156.72 413.00 L157.55 413.00 L158.39 413.00 L159.22 413.00 L160.06 413.00 L160.89 413.00 L161.72 413.00 L162.56 413.00 L163.39 413.00 L164.22 413.00 L165.06 413.00 L165.89 413.00 L166.73 413.00 L167.56 413.00 L168.39 413.00 L169.23 413.00 L170.06 413.00 L170.89 413.00 L171.73 413.00 L172.56 413.00 L173.40 413.00 L174.23 413.00 L175.06 413.00 L175.90 413.00 L176.73 413.00 L177.57 413.00 L178.40 413.00 L179.23 413.00 L180.07 413.00 L180.90 413.00 L181.73 413.00 L182.57 413.00 L183.40 413.00 L184.24 413.00 L185.07 413.00 L185.90 413.00 L186.74 413.00 L187.57 413.00 L188.40 413.00 L189.24 413.00 L190.07 413.00 L190.91 413.00 L191.74 413.00 L192.57 413.00 L193.41 413.00 L194.24 413.00 L195.08 413.00 L195.91 413.00 L196.74 413.00 L197.58 413.00 L198.41 413.00 L199.24 413.00 L200.08 413.00 L200.91 413.00 L201.75 413.00 L202.58 413.00 L203.41 413.00 L204.25 413.00 L205.08 413.00 L205.91 413.00 L206.75 413.00 L207.58 413.00 L208.42 413.00 L209.25 413.00 L210.08 413.00 L210.92 413.00 L211.75 413.00 L212.58 413.00 L213.42 413.00 L214.25 413.00 L215.09 413.00 L215.92 413.00 L216.75 413.00 L217.59 413.00 L218.42 413.00 L219.26 413.00 L220.09 413.00 L220.92 413.00 L221.76 413.00 L222.59 413.00 L223.42 413.00 L224.26 413.00 L225.09 413.00 L225.93 413.00 L226.76 413.00 L227.59 413.00 L228.43 413.00 L229.26 413.00 L230.09 413.00 L230.93 413.00 L231.76 413.00 L232.60 413.00 L233.43 413.00 L234.26 413.00 L235.10 413.00 L235.93 413.00 L236.77 413.00 L237.60 413.00 L238.43 413.00 L239.27 413.00 L240.10 413.00 L240.93 413.00 L241.77 413.00 L242.60 413.00 L243.44 413.00 L244.27 413.00 L245.10 413.00 L245.94 413.00 L246.77 413.00 L247.60 413.00 L248.44 413.00 L249.27 413.00 L250.11 413.00 L250.94 413.00 L251.77 413.00 L252.61 413.00 L253.44 413.00 L254.27 413.00 L255.11 413.00 L255.94 413.00 L256.78 413.00 L257.61 413.00 L258.44 413.00 L259.28 413.00 L260.11 413.00 L260.95 413.00 L261.78 413.00 L262.61 413.00 L263.45 413.00 L264.28 413.00 L265.11 413.00 L265.95 413.00 L266.78 413.00 L267.62 413.00 L268.45 413.00 L269.28 413.00 L270.12 413.00 L270.95 413.00 L271.78 413.00 L272.62 413.00 L273.45 413.00 L274.29 413.00 L275.12 413.00 L275.95 413.00 L276.79 413.00 L277.62 413.00 L278.46 413.00 L279.29 413.00 L280.12 413.00 L280.96 413.00 L281.79 413.00 L282.62 413.00 L283.46 413.00 L284.29 413.00 L285.13 413.00 L285.96 413.00 L286.79 413.00 L287.63 413.00 L288.46 413.00 L289.29 413.00 L290.13 413.00 L290.96 413.00 L291.80 413.00 L292.63 413.00 L293.46 413.00 L294.30 413.00 L295.13 413.00 L295.97 413.00 L296.80 413.00 L297.63 413.00 L298.47 413.00 L299.30 413.00 L300.13 413.00 L300.97 413.00 L301.80 413.00 L302.64 413.00 L303.47 413.00 L304.30 413.00 L305.14 413.00 L305.97 413.00 L306.80 413.00 L307.64 413.00 L308.47 413.00 L309.31 413.00 L310.14 413.00 L310.97 413.00 L311.81 413.00 L312.64 413.00 L313.47 413.00 L314.31 413.00 L315.14 413.00 L315.98 413.00 L316.81 413.00 L317.64 413.00 L318.48 413.00 L319.31 413.00 L320.15 413.00 L320.98 413.00 L321.81 413.00 L322.65 413.00 L323.48 413.00 L324.31 413.00 L325.15 413.00 L325.98 413.00 L326.82 413.00 L327.65 413.00 L328.48 413.00 L329.32 413.00 L330.15 413.00 L330.98 413.00 L331.82 413.00 L332.65 413.00 L333.49 413.00 L334.32 413.00 L335.15 413.00 L335.99 413.00 L336.82 413.00 L337.66 413.00 L338.49 413.00 L339.32 413.00 L340.16 413.00 L340.99 413.00 L341.82 413.00 L342.66 413.00 L343.49 413.00 L344.33 413.00 L345.16 413.00 L345.99 413.00 L346.83 413.00 L347.66 413.00 L348.49 413.00 L349.33 413.00 L350.16 413.00 L351.00 413.00 L351.83 413.00 L352.66 413.00 L353.50 413.00 L354.33 413.00 L355.16 413.00 L356.00 413.00 L356.83 413.00 L357.67 413.00 L358.50 413.00 L359.33 413.00 L360.17 413.00 L361.00 413.00 L361.84 413.00 L362.67 413.00 L363.50 413.00 L364.34 413.00 L365.17 413.00 L366.00 413.00 L366.84 413.00 L367.67 413.00 L368.51 413.00 L369.34 413.00 L370.17 413.00 L371.01 413.00 L371.84 413.00 L372.67 413.00 L373.51 413.00 L374.34 413.00 L375.18 413.00 L376.01 413.00 L376.84 413.00 L377.68 413.00 L378.51 413.00 L379.34 413.00 L380.18 413.00 L381.01 413.00 L381.85 413.00 L382.68 413.00 L383.51 413.00 L384.35 413.00 L385.18 413.00 L386.02 413.00 L386.85 412.99 L387.68 412.99 L388.52 412.99 L389.35 412.99 L390.18 412.99 L391.02 412.99 L391.85 412.99 L392.69 412.99 L393.52 412.99 L394.35 412.99 L395.19 412.99 L396.02 412.99 L396.85 412.99 L397.69 412.99 L398.52 412.99 L399.36 412.98 L400.19 412.98 L401.02 412.98 L401.86 412.98 L402.69 412.98 L403.53 412.98 L404.36 412.98 L405.19 412.97 L406.03 412.97 L406.86 412.97 L407.69 412.97 L408.53 412.97 L409.36 412.96 L410.20 412.96 L411.03 412.96 L411.86 412.95 L412.70 412.95 L413.53 412.95 L414.36 412.94 L415.20 412.94 L416.03 412.93 L416.87 412.93 L417.70 412.92 L418.53 412.92 L419.37 412.91 L420.20 412.91 L421.03 412.90 L421.87 412.89 L422.70 412.88 L423.54 412.88 L424.37 412.87 L425.20 412.86 L426.04 412.85 L426.87 412.84 L427.71 412.82 L428.54 412.81 L429.37 412.80 L430.21 412.78 L431.04 412.76 L431.87 412.75 L432.71 412.73 L433.54 412.71 L434.38 412.69 L435.21 412.66 L436.04 412.64 L436.88 412.61 L437.71 412.58 L438.54 412.55 L439.38 412.52 L440.21 412.48 L441.05 412.45 L441.88 412.40 L442.71 412.36 L443.55 412.31 L444.38 412.26 L445.22 412.21 L446.05 412.15 L446.88 412.09 L447.72 412.02 L448.55 411.95 L449.38 411.87 L450.22 411.79 L451.05 411.70 L451.89 411.60 L452.72 411.50 L453.55 411.39 L454.39 411.27 L455.22 411.14 L456.05 411.00 L456.89 410.86 L457.72 410.70 L458.56 410.53 L459.39 410.35 L460.22 410.15 L461.06 409.95 L461.89 409.72 L462.72 409.48 L463.56 409.22 L464.39 408.95 L465.23 408.65 L466.06 408.33 L466.89 407.99 L467.73 407.63 L468.56 407.24 L469.40 406.82 L470.23 406.37 L471.06 405.89 L471.90 405.37 L472.73 404.82 L473.56 404.23 L474.40 403.60 L475.23 402.92 L476.07 402.20 L476.90 401.42 L477.73 400.59 L478.57 399.71 L479.40 398.76 L480.23 397.75 L481.07 396.67 L481.90 395.52 L482.74 394.29 L483.57 392.97 L484.40 391.57 L485.24 390.08 L486.07 388.49 L486.91 386.80 L487.74 385.00 L488.57 383.09 L489.41 381.06 L490.24 378.90 L491.07 376.61 L491.91 374.18 L492.74 371.61 L493.58 368.88 L494.41 366.01 L495.24 362.96 L496.08 359.76 L496.91 356.37 L497.74 352.81 L498.58 349.07 L499.41 345.14 L500.25 341.01 L501.08 336.70 L501.91 332.18 L502.75 327.47 L503.58 322.55 L504.42 317.44 L505.25 312.13 L506.08 306.62 L506.92 300.92 L507.75 295.03 L508.58 288.96 L509.42 282.72 L510.25 276.32 L511.09 269.76 L511.92 263.06 L512.75 256.24 L513.59 249.29 L514.42 242.25 L515.25 235.13 L516.09 227.94 L516.92 220.71 L517.76 213.44 L518.59 206.17 L519.42 198.91 L520.26 191.67 L521.09 184.48 L521.92 177.36 L522.76 170.32 L523.59 163.38 L524.43 156.55 L525.26 149.86 L526.09 143.30 L526.93 136.91 L527.76 130.68 L528.60 124.63 L529.43 118.77 L530.26 113.09 L531.10 107.61 L531.93 102.34 L532.76 97.26 L533.60 92.40 L534.43 87.73 L535.27 83.27 L536.10 79.01 L536.93 74.96 L537.77 71.09 L538.60 67.42 L539.43 63.94 L540.27 60.64 L541.10 57.52 L541.94 54.56 L542.77 51.77 L543.60 49.14 L544.44 46.66 L545.27 44.32 L546.10 42.12 L546.94 40.06 L547.77 38.11 L548.61 36.29 L549.44 34.58 L550.27 32.98 L551.11 31.48 L551.94 30.07 L552.78 28.76 L553.61 27.53 L554.44 26.38 L555.28 25.30 L556.11 24.30 L556.94 23.36 L557.78 22.48 L558.61 21.66 L559.45 20.90 L560.28 20.19 L561.11 19.53 L561.95 18.91 L562.78 18.33 L563.61 17.80 L564.45 17.30 L565.28 16.83 L566.12 16.40 L566.95 15.99 L567.78 15.61 L568.62 15.26 L569.45 14.94 L570.29 14.63 L571.12 14.35 L571.95 14.09 L572.79 13.84 L573.62 13.62 L574.45 13.41 L575.29 13.21 L576.12 13.02 L576.96 12.85 L577.79 12.70 L578.62 12.55 L579.46 12.41 L580.29 12.28 L581.12 12.17 L581.96 12.06 L582.79 11.95 L583.63 11.86 L584.46 11.77 L585.29 11.69 L586.13 11.61 L586.96 11.54 L587.79 11.47 L588.63 11.41 L589.46 11.35 L590.30 11.30 L591.13 11.25 L591.96 11.21 L592.80 11.16 L593.63 11.12 L594.47 11.09 L595.30 10.60" fill="none" stroke="#800080" stroke-width="2.40" stroke-linejoin="round" stroke-linecap="square"/>
<path d="M595.11 10.60 H693.22" fill="none" stroke="#800080" stroke-width="2.40"/>
</g>
<g stroke="#5c5c5c" stroke-width="0.8">
<line x1="53.62" y1="10.20" x2="53.62" y2="413.40"/>
<line x1="53.62" y1="413.00" x2="705.30" y2="413.00"/>
<line x1="53.62" y1="392.88" x2="57.22" y2="392.88"/>
<line x1="53.62" y1="372.76" x2="57.22" y2="372.76"/>
<line x1="53.62" y1="352.64" x2="57.22" y2="352.64"/>
<line x1="53.62" y1="332.52" x2="59.62" y2="332.52"/>
<line x1="53.62" y1="312.40" x2="57.22" y2="312.40"/>
<line x1="53.62" y1="292.28" x2="57.22" y2="292.28"/>
<line x1="53.62" y1="272.16" x2="57.22" y2="272.16"/>
<line x1="53.62" y1="252.04" x2="59.62" y2="252.04"/>
<line x1="53.62" y1="231.92" x2="57.22" y2="231.92"/>
<line x1="53.62" y1="211.80" x2="57.22" y2="211.80"/>
<line x1="53.62" y1="191.68" x2="57.22" y2="191.68"/>
<line x1="53.62" y1="171.56" x2="59.62" y2="171.56"/>
<line x1="53.62" y1="151.44" x2="57.22" y2="151.44"/>
<line x1="53.62" y1="131.32" x2="57.22" y2="131.32"/>
<line x1="53.62" y1="111.20" x2="57.22" y2="111.20"/>
<line x1="53.62" y1="91.08" x2="59.62" y2="91.08"/>
<line x1="53.62" y1="70.96" x2="57.22" y2="70.96"/>
<line x1="53.62" y1="50.84" x2="57.22" y2="50.84"/>
<line x1="53.62" y1="30.72" x2="57.22" y2="30.72"/>
<line x1="53.62" y1="10.60" x2="59.62" y2="10.60"/>
<line x1="66.67" y1="413.00" x2="66.67" y2="407.00"/>
<line x1="87.52" y1="413.00" x2="87.52" y2="409.40"/>
<line x1="108.36" y1="413.00" x2="108.36" y2="409.40"/>
<line x1="129.21" y1="413.00" x2="129.21" y2="409.40"/>
<line x1="150.05" y1="413.00" x2="150.05" y2="407.00"/>
<line x1="170.89" y1="413.00" x2="170.89" y2="409.40"/>
<line x1="191.74" y1="413.00" x2="191.74" y2="409.40"/>
<line x1="212.58" y1="413.00" x2="212.58" y2="409.40"/>
<line x1="233.43" y1="413.00" x2="233.43" y2="407.00"/>
<line x1="254.27" y1="413.00" x2="254.27" y2="409.40"/>
<line x1="275.12" y1="413.00" x2="275.12" y2="409.40"/>
<line x1="295.97" y1="413.00" x2="295.97" y2="409.40"/>
<line x1="316.81" y1="413.00" x2="316.81" y2="407.00"/>
<line x1="337.66" y1="413.00" x2="337.66" y2="409.40"/>
<line x1="358.50" y1="413.00" x2="358.50" y2="409.40"/>
<line x1="379.34" y1="413.00" x2="379.34" y2="409.40"/>
<line x1="400.19" y1="413.00" x2="400.19" y2="407.00"/>
<line x1="421.04" y1="413.00" x2="421.04" y2="409.40"/>
<line x1="441.88" y1="413.00" x2="441.88" y2="409.40"/>
<line x1="462.73" y1="413.00" x2="462.73" y2="409.40"/>
<line x1="483.57" y1="413.00" x2="483.57" y2="407.00"/>
<line x1="504.42" y1="413.00" x2="504.42" y2="409.40"/>
<line x1="525.26" y1="413.00" x2="525.26" y2="409.40"/>
<line x1="546.11" y1="413.00" x2="546.11" y2="409.40"/>
<line x1="566.95" y1="413.00" x2="566.95" y2="407.00"/>
<line x1="587.79" y1="413.00" x2="587.79" y2="409.40"/>
<line x1="608.64" y1="413.00" x2="608.64" y2="409.40"/>
<line x1="629.49" y1="413.00" x2="629.49" y2="409.40"/>
<line x1="650.33" y1="413.00" x2="650.33" y2="407.00"/>
<line x1="671.17" y1="413.00" x2="671.17" y2="409.40"/>
<line x1="692.02" y1="413.00" x2="692.02" y2="409.40"/>
</g>
<g>
<text transform="translate(48.95,418.05) rotate(0.03)" text-anchor="end" class="tk">0.0</text>
<text transform="translate(48.95,337.57) rotate(0.03)" text-anchor="end" class="tk">0.2</text>
<text transform="translate(48.95,257.09) rotate(0.03)" text-anchor="end" class="tk">0.4</text>
<text transform="translate(48.95,176.61) rotate(0.03)" text-anchor="end" class="tk">0.6</text>
<text transform="translate(48.95,96.13) rotate(0.03)" text-anchor="end" class="tk">0.8</text>
<text transform="translate(48.95,15.65) rotate(0.03)" text-anchor="end" class="tk">1.0</text>
<text transform="translate(66.47,431.3) rotate(0.03)" text-anchor="middle" class="tk">0.0</text>
<text transform="translate(149.85,431.3) rotate(0.03)" text-anchor="middle" class="tk">0.2</text>
<text transform="translate(233.23,431.3) rotate(0.03)" text-anchor="middle" class="tk">0.4</text>
<text transform="translate(316.61,431.3) rotate(0.03)" text-anchor="middle" class="tk">0.6</text>
<text transform="translate(399.99,431.3) rotate(0.03)" text-anchor="middle" class="tk">0.8</text>
<text transform="translate(483.37,431.3) rotate(0.03)" text-anchor="middle" class="tk">1.0</text>
<text transform="translate(566.75,431.3) rotate(0.03)" text-anchor="middle" class="tk">1.2</text>
<text transform="translate(650.13,431.3) rotate(0.03)" text-anchor="middle" class="tk">1.4</text>
</g>
<g>
<line x1="725.3" y1="187.70" x2="752.5" y2="187.70" stroke="#ff0000" stroke-width="2.1"/>
<text transform="translate(762.6,194.60) rotate(0.03) scale(0.910,1)" class="lg">Q<tspan dy="1.3">=</tspan><tspan dx="0.44" dy="-1.3">0</tspan></text>
<line x1="725.3" y1="217.50" x2="752.5" y2="217.50" stroke="#0000ff" stroke-width="2.1"/>
<text transform="translate(762.6,224.40) rotate(0.03) scale(0.910,1)" class="lg">Q<tspan dy="1.3">=</tspan><tspan dx="0.44" dy="-1.3">0</tspan><tspan dx="0.55">.</tspan><tspan dx="0.55">1</tspan><tspan dx="0.55">M</tspan></text>
<line x1="725.3" y1="247.30" x2="752.5" y2="247.30" stroke="#00ff00" stroke-width="2.1"/>
<text transform="translate(762.6,254.20) rotate(0.03) scale(0.910,1)" class="lg">Q<tspan dy="1.3">=</tspan><tspan dx="0.44" dy="-1.3">0</tspan><tspan dx="0.55">.</tspan><tspan dx="0.55">5</tspan><tspan dx="0.55">M</tspan></text>
<line x1="725.3" y1="277.10" x2="752.5" y2="277.10" stroke="#800080" stroke-width="2.1"/>
<text transform="translate(762.6,284.00) rotate(0.03) scale(0.910,1)" class="lg">Q<tspan dy="1.3">=</tspan><tspan dx="0.44" dy="-1.3">M</tspan></text>
</g>
<text x="380" y="461" text-anchor="middle" class="al" font-style="italic">ω</text>
<g transform="translate(17,241.4) rotate(-90)">
<text x="0" y="0" class="al">|</text>
<text x="7.1" y="0" class="al">A</text>
<text x="17.5" y="0.4" class="al" style="font-size:17.6px">(</text>
<text x="25.5" y="0" class="al" font-style="italic">ω</text>
<text x="37.9" y="0.4" class="al" style="font-size:17.6px">)</text>
<text x="47.1" y="0" class="al">|</text>
<text x="54.5" y="-7.3" class="al" style="font-size:11.6px">2</text>
</g>
</svg>
</body></html>
